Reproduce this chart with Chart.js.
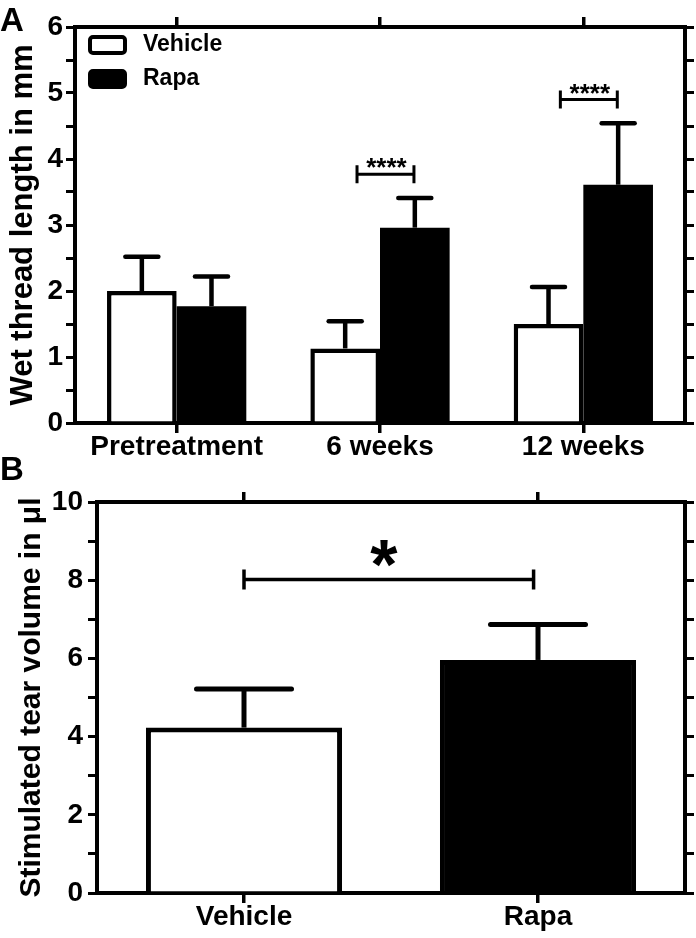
<!DOCTYPE html>
<html>
<head>
<meta charset="utf-8">
<script src="https://cdn.jsdelivr.net/npm/chart.js@4.4.1/dist/chart.umd.min.js"></script>
<style>
  html, body { margin: 0; padding: 0; background: #fff; }
  #wrap { position: relative; width: 696px; height: 938px; overflow: hidden; }
  #chartA { position: absolute; left: 0; top: 0; }
  #chartB { position: absolute; left: 0; top: 455px; }
</style>
</head>
<body>
<div id="wrap">
  <canvas id="chartA" width="696" height="470"></canvas>
  <canvas id="chartB" width="696" height="483"></canvas>
</div>
<script>
// Panel A: wet thread length (mm), mean + SEM
const GROUPS_A = ["Pretreatment", "6 weeks", "12 weeks"];
const VEHICLE_A = [2.0, 1.13, 1.5];
const VEHICLE_A_SEM = [0.52, 0.41, 0.56];
const RAPA_A = [1.77, 2.96, 3.61];
const RAPA_A_SEM = [0.45, 0.45, 0.93];
// significance brackets, x in category units
const SIG_A_FROM = [0.887, 1.887];
const SIG_A_TO = [1.167, 2.167];
const SIG_A_LEVEL = [3.77, 4.9];
const SIG_A_MARK = ["****", "****"];

// Panel B: stimulated tear volume (µl)
const GROUPS_B = ["Vehicle", "Rapa"];
const VOLUME_B = [4.23, 5.96];
const VOLUME_B_SEM = [0.99, 0.91];
const SIG_B_FROM = [0];
const SIG_B_TO = [0.985];
const SIG_B_LEVEL = [8.02];
const SIG_B_MARK = ["*"];

const FONT = "'Liberation Sans', Arial, sans-serif";
Chart.defaults.font.family = FONT;
Chart.defaults.color = "#000";

const errorBarPlugin = {
  id: "errorBars",
  afterDatasetsDraw(chart, args, opts) {
    const { ctx } = chart;
    const yScale = chart.scales.y;
    ctx.save();
    ctx.strokeStyle = "#000";
    ctx.lineWidth = opts.lineWidth;
    chart.data.datasets.forEach((ds, di) => {
      if (!ds.errors) return;
      const meta = chart.getDatasetMeta(di);
      meta.data.forEach((bar, i) => {
        const top = yScale.getPixelForValue(ds.data[i] + ds.errors[i]);
        ctx.lineCap = "butt";
        ctx.beginPath();
        ctx.moveTo(bar.x, bar.y);
        ctx.lineTo(bar.x, top);
        ctx.stroke();
        ctx.lineCap = "round";
        ctx.beginPath();
        ctx.moveTo(bar.x - opts.capHalf, top);
        ctx.lineTo(bar.x + opts.capHalf, top);
        ctx.stroke();
      });
    });
    ctx.restore();
  }
};

const bracketPlugin = {
  id: "sigBrackets",
  afterDatasetsDraw(chart, args, opts) {
    const { ctx } = chart;
    const xs = chart.scales.x;
    const ys = chart.scales.y;
    ctx.save();
    ctx.strokeStyle = "#000";
    ctx.fillStyle = "#000";
    ctx.lineWidth = opts.lineWidth;
    opts.from.forEach((f, i) => {
      const x1 = xs.getPixelForValue(f);
      const x2 = xs.getPixelForValue(opts.to[i]);
      const py = ys.getPixelForValue(opts.level[i]);
      ctx.beginPath();
      ctx.moveTo(x1, py - opts.endHalf);
      ctx.lineTo(x1, py + opts.endHalf);
      ctx.moveTo(x1, py);
      ctx.lineTo(x2, py);
      ctx.moveTo(x2, py - opts.endHalf);
      ctx.lineTo(x2, py + opts.endHalf);
      ctx.stroke();

      ctx.font = opts.font;
      ctx.textAlign = "center";
      ctx.textBaseline = "alphabetic";
      const m = ctx.measureText(opts.marks[i]);
      const inkMid = py - opts.markGap;
      const base = inkMid + (m.actualBoundingBoxAscent - m.actualBoundingBoxDescent) / 2;
      ctx.fillText(opts.marks[i], (x1 + x2) / 2 + opts.markShift, base);
    });
    ctx.restore();
  }
};

const boxLegendPlugin = {
  id: "boxLegend",
  afterDraw(chart, args, opts) {
    if (!opts.show) return;
    const { ctx, chartArea } = chart;
    ctx.save();
    ctx.font = opts.font;
    ctx.textBaseline = "middle";
    ctx.textAlign = "left";
    ctx.lineWidth = opts.lineWidth;
    ctx.strokeStyle = "#000";
    chart.data.datasets.forEach((ds, i) => {
      const bx = chartArea.left + opts.offsetX;
      const by = chartArea.top + opts.offsetY + i * opts.rowGap;
      ctx.beginPath();
      ctx.roundRect(bx, by, opts.boxW, opts.boxH, opts.radius);
      ctx.fillStyle = ds.backgroundColor;
      ctx.fill();
      ctx.stroke();
      ctx.fillStyle = "#000";
      ctx.fillText(ds.label, bx + opts.boxW + opts.textGap, by + opts.boxH / 2);
    });
    ctx.restore();
  }
};

const panelLabelPlugin = {
  id: "panelLabel",
  afterDraw(chart, args, opts) {
    const { ctx } = chart;
    ctx.save();
    ctx.font = opts.font;
    ctx.fillStyle = "#000";
    ctx.textAlign = "left";
    ctx.textBaseline = "alphabetic";
    ctx.fillText(opts.text, opts.x, opts.y);
    ctx.restore();
  }
};

function leftAxis(max, step, labelEvery, titleText, titleSize, titlePad, labelPad, width) {
  return {
    type: "linear",
    position: "left",
    min: 0,
    max,
    ticks: {
      stepSize: step,
      autoSkip: false,
      padding: labelPad,
      color: "#000",
      font: { size: 28, weight: "bold", lineHeight: 1 },
      callback: (v) => (v % labelEvery === 0 ? String(v) : "")
    },
    grid: { drawOnChartArea: false, color: "#000", lineWidth: 3, tickWidth: 3, tickLength: 9 },
    border: { color: "#000", width: 4 },
    title: {
      display: true,
      text: titleText,
      color: "#000",
      font: { size: titleSize, weight: "bold" },
      padding: { top: titlePad, bottom: 0 }
    },
    afterFit: (s) => { s.width = width; }
  };
}

function rightAxis(max, step) {
  return {
    type: "linear",
    position: "right",
    min: 0,
    max,
    ticks: { stepSize: step, display: false, autoSkip: false },
    grid: { drawOnChartArea: false, color: "#000", lineWidth: 3, tickWidth: 3, tickLength: 9 },
    border: { color: "#000", width: 4 },
    afterFit: (s) => { s.width = 11; }
  };
}

function bottomAxis(height) {
  return {
    type: "category",
    position: "bottom",
    offset: true,
    ticks: {
      padding: 0,
      autoSkip: false,
      maxRotation: 0,
      color: "#000",
      font: { size: 28, weight: "bold", lineHeight: 1 }
    },
    grid: { offset: false, drawOnChartArea: false, color: "#000", lineWidth: 3.5, tickWidth: 3.5, tickLength: 10 },
    border: { color: "#000", width: 4 },
    afterFit: (s) => { s.height = height; }
  };
}

function topAxis(labels, height) {
  return {
    type: "category",
    position: "top",
    labels,
    offset: true,
    ticks: { display: false },
    grid: { offset: false, drawOnChartArea: false, color: "#000", lineWidth: 3.5, tickWidth: 3.5, tickLength: 10 },
    border: { color: "#000", width: 4 },
    afterFit: (s) => { s.height = height; }
  };
}

function baseOptions() {
  return {
    responsive: false,
    devicePixelRatio: 1,
    animation: false,
    events: [],
    layout: { padding: 0 }
  };
}

new Chart(document.getElementById("chartA"), {
  type: "bar",
  data: {
    labels: GROUPS_A,
    datasets: [
      {
        label: "Vehicle",
        data: VEHICLE_A,
        errors: VEHICLE_A_SEM,
        backgroundColor: "#ffffff",
        borderColor: "#000000",
        borderWidth: 4.5,
        borderSkipped: "start",
        categoryPercentage: 0.685,
        barPercentage: 1
      },
      {
        label: "Rapa",
        data: RAPA_A,
        errors: RAPA_A_SEM,
        backgroundColor: "#000000",
        borderColor: "#000000",
        borderWidth: 0,
        categoryPercentage: 0.685,
        barPercentage: 1
      }
    ]
  },
  options: {
    ...baseOptions(),
    scales: {
      x: bottomAxis(47),
      x2: topAxis(GROUPS_A, 27),
      y: leftAxis(6, 0.5, 1, "Wet thread length in mm", 31, 5, 3, 75),
      y2: rightAxis(6, 0.5)
    },
    plugins: {
      legend: { display: false },
      tooltip: { enabled: false },
      errorBars: { lineWidth: 4.5, capHalf: 16.5 },
      sigBrackets: {
        from: SIG_A_FROM,
        to: SIG_A_TO,
        level: SIG_A_LEVEL,
        marks: SIG_A_MARK,
        lineWidth: 3,
        endHalf: 9,
        font: "bold 26px " + FONT,
        markGap: 11,
        markShift: 1
      },
      boxLegend: {
        show: true,
        font: "bold 23px " + FONT,
        lineWidth: 4,
        offsetX: 15,
        offsetY: 10,
        rowGap: 34,
        boxW: 35,
        boxH: 16,
        radius: 3,
        textGap: 18
      },
      panelLabel: { text: "A", x: 0, y: 31, font: "bold 33px " + FONT }
    }
  },
  plugins: [errorBarPlugin, bracketPlugin, boxLegendPlugin, panelLabelPlugin]
});

new Chart(document.getElementById("chartB"), {
  type: "bar",
  data: {
    labels: GROUPS_B,
    datasets: [
      {
        label: "Stimulated tear volume",
        data: VOLUME_B,
        errors: VOLUME_B_SEM,
        backgroundColor: ["#ffffff", "#000000"],
        borderColor: "#000000",
        borderWidth: 5,
        borderSkipped: "start",
        categoryPercentage: 0.667,
        barPercentage: 1
      }
    ]
  },
  options: {
    ...baseOptions(),
    scales: {
      x: bottomAxis(45),
      x2: topAxis(GROUPS_B, 47),
      y: leftAxis(10, 1, 2, "Stimulated tear volume in \u03bcl", 30, 14, 5, 97),
      y2: rightAxis(10, 1)
    },
    plugins: {
      legend: { display: false },
      tooltip: { enabled: false },
      errorBars: { lineWidth: 5, capHalf: 47.5 },
      sigBrackets: {
        from: SIG_B_FROM,
        to: SIG_B_TO,
        level: SIG_B_LEVEL,
        marks: SIG_B_MARK,
        lineWidth: 3.5,
        endHalf: 10,
        font: "bold 70px " + FONT,
        markGap: 26,
        markShift: -5
      },
      boxLegend: { show: false },
      panelLabel: { text: "B", x: 0, y: 25, font: "bold 33px " + FONT }
    }
  },
  plugins: [errorBarPlugin, bracketPlugin, boxLegendPlugin, panelLabelPlugin]
});
</script>
</body>
</html>
